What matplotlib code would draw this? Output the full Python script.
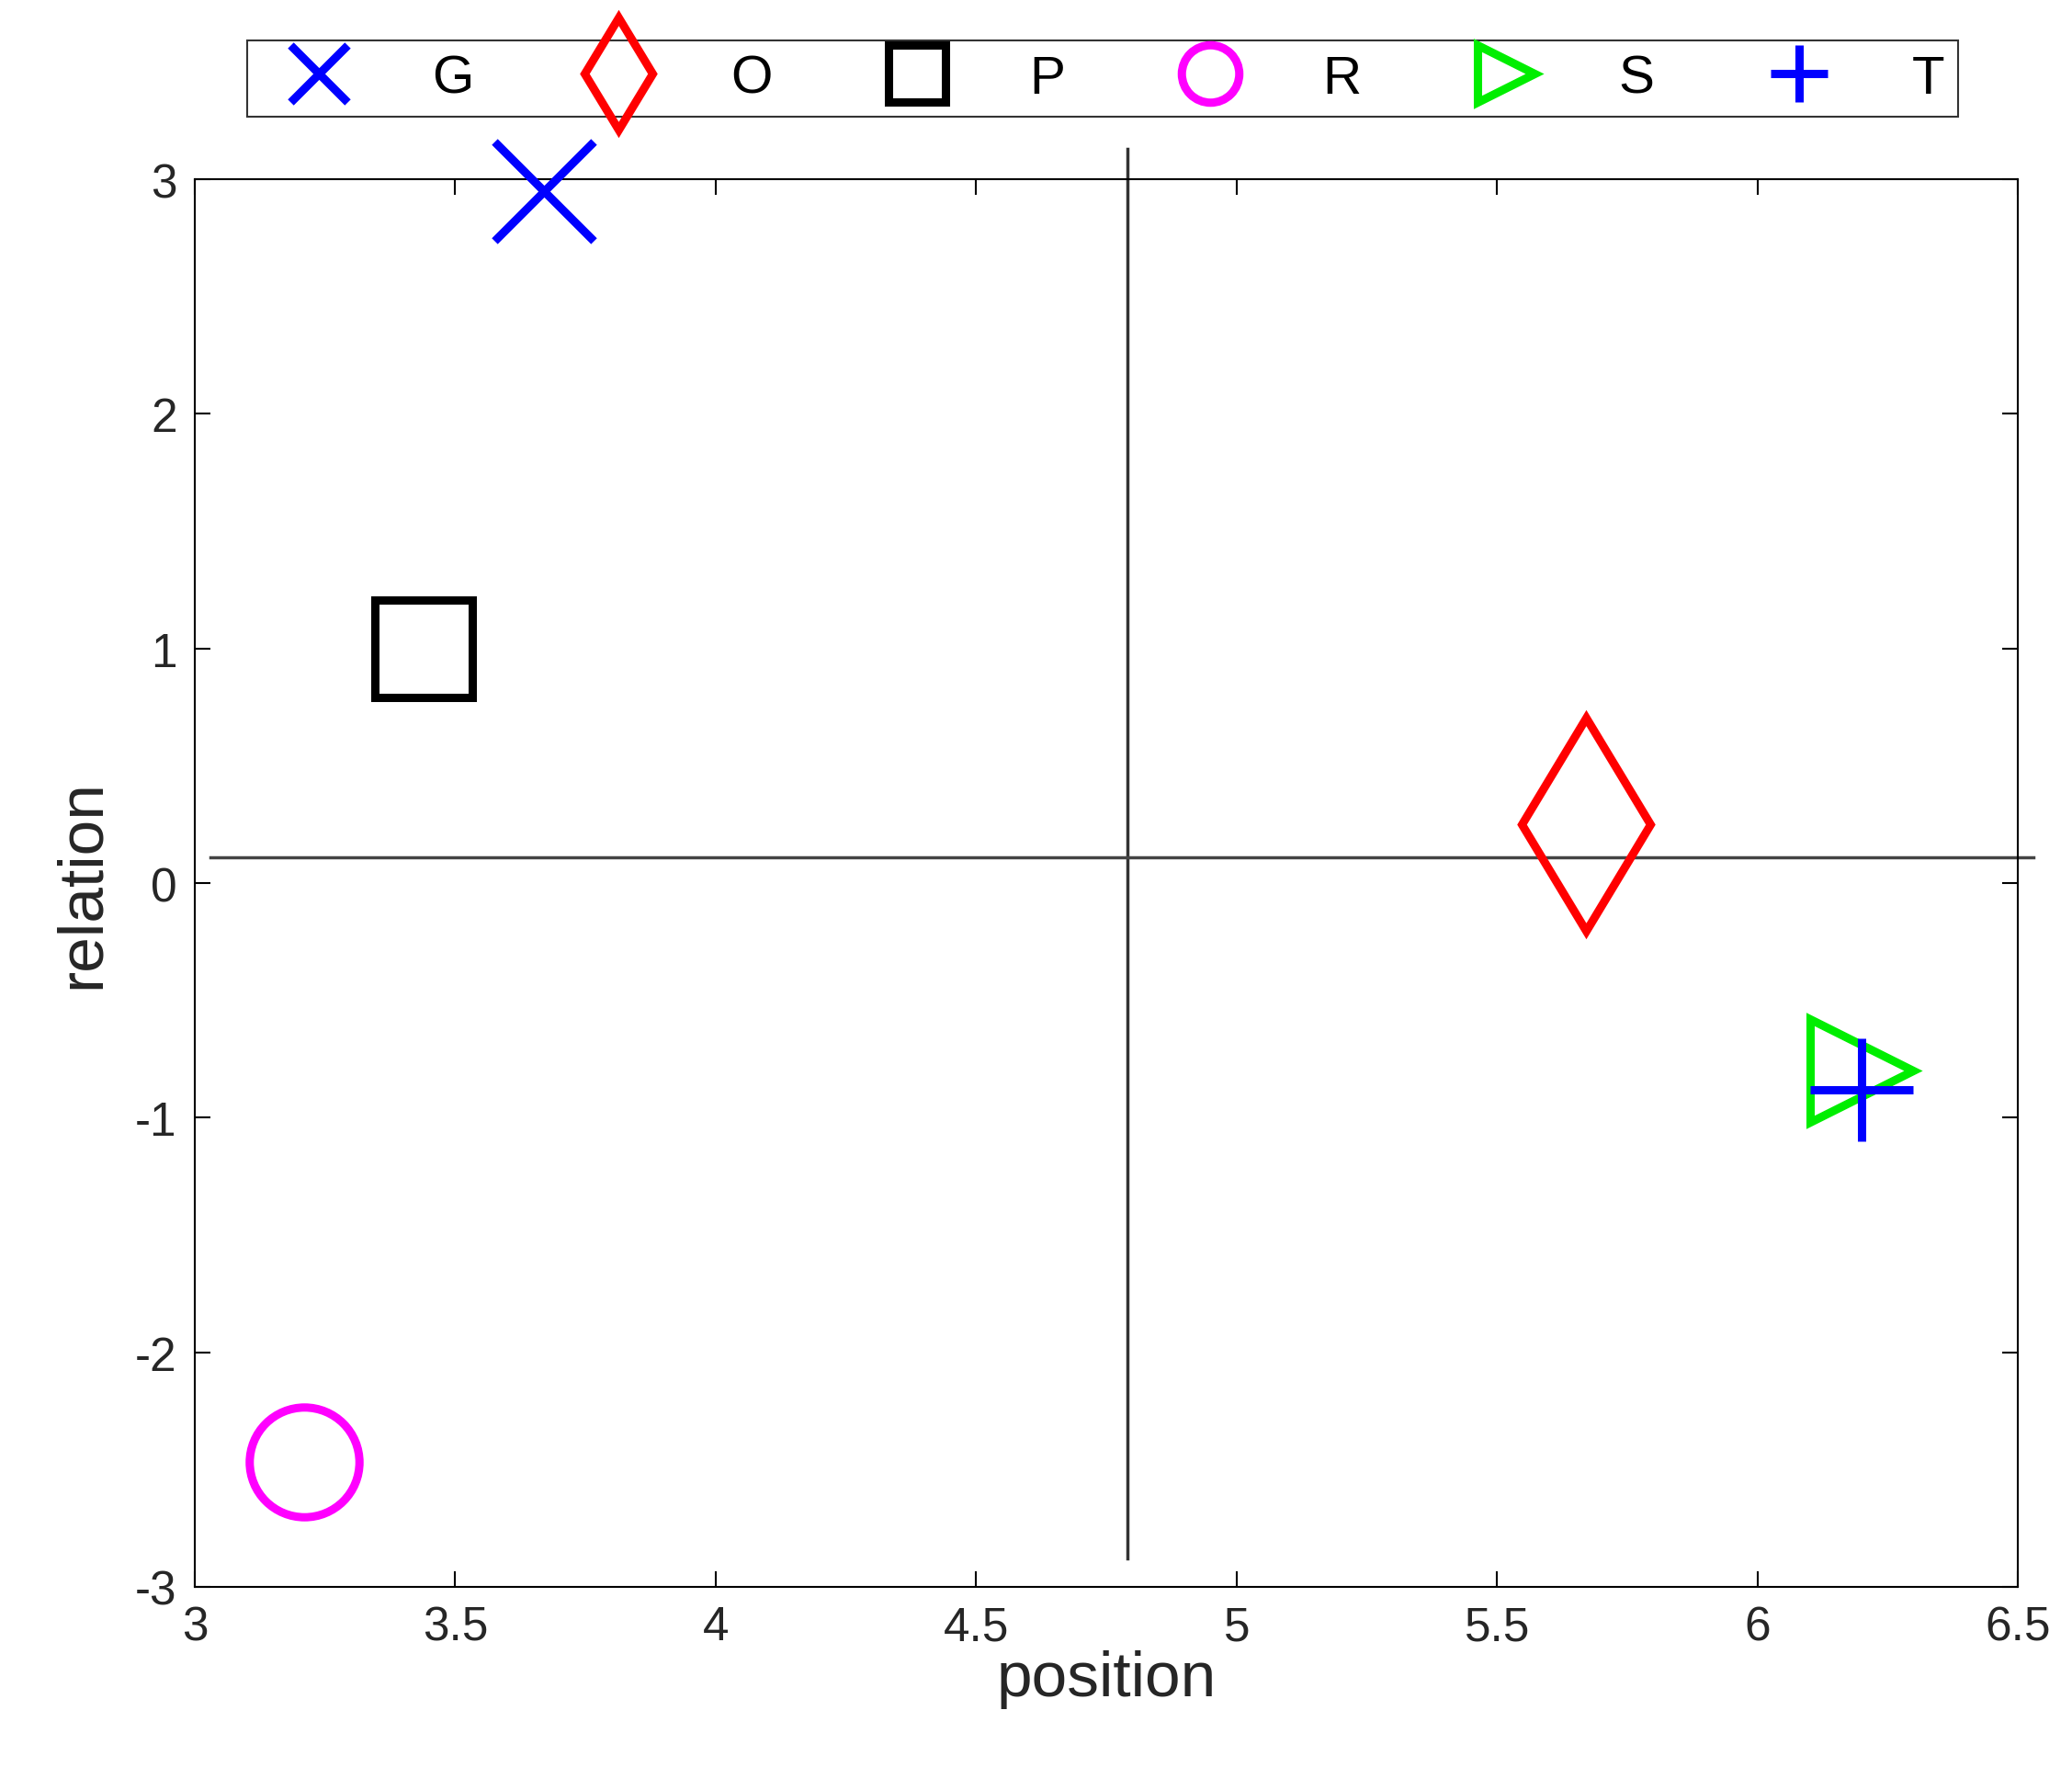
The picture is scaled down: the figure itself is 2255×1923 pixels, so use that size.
import matplotlib
matplotlib.use("Agg")
import matplotlib.pyplot as plt
from matplotlib.lines import Line2D

plt.rcParams["font.family"] = ["Liberation Sans", "DejaVu Sans"]
plt.rcParams["axes.unicode_minus"] = False

names = ["G", "O", "P", "R", "S", "T"]
pos = [3.67, 5.67, 3.44, 3.21, 6.2, 6.2]
rel = [2.95, 0.25, 1.0, -2.47, -0.8, -0.88]
markers = ["x", "d", "s", "o", ">", "+"]
colors = ["#0000ff", "#ff0000", "#000000", "#ff00ff", "#00ee00", "#0000ff"]
sizes = [78, 118, 76, 86, 80, 80]
vline_x = 4.79
hline_y = 0.11

fig = plt.figure(figsize=(22.55, 19.24), dpi=100)
ax = fig.add_axes([0.094, 0.102, 0.880, 0.796])

for n, x, y, m, c, s in zip(names, pos, rel, markers, colors, sizes):
    ax.plot([x], [y], linestyle="none", marker=m, markersize=s, color=c,
            markerfacecolor="none", markeredgewidth=6.5, clip_on=False, zorder=3)

ax.plot([vline_x, vline_x], [-2.88, 3.13], color="#333333", linewidth=2.5, clip_on=False)
ax.plot([3.03, 6.53], [hline_y, hline_y], color="#444444", linewidth=2.5, clip_on=False)

ax.set_xlim(3, 6.5)
ax.set_ylim(-3, 3)
ax.set_xticks([3, 3.5, 4, 4.5, 5, 5.5, 6, 6.5])
ax.set_xticklabels(["3", "3.5", "4", "4.5", "5", "5.5", "6", "6.5"])
ax.set_yticks([-3, -2, -1, 0, 1, 2, 3])
ax.tick_params(labelsize=37, labelcolor="#262626", direction="in", length=12, width=1.5,
               top=True, right=True, pad=14)
for sp in ax.spines.values():
    sp.set_linewidth(1.5)
ax.set_xlabel("position", fontsize=50, color="#262626", labelpad=0)
ax.set_ylabel("relation", fontsize=50, color="#262626", labelpad=18)

handles = [Line2D([], [], linestyle="none", marker=m, color=c, markerfacecolor="none",
                  markersize=45 if m != "d" else 62, markeredgewidth=6.5)
           for m, c in zip(markers, colors)]
leg = fig.legend(handles, names, loc="center", bbox_to_anchor=(0.532, 0.955), ncol=6,
                 fontsize=42, frameon=True, fancybox=False, edgecolor="black",
                 handletextpad=1.0, columnspacing=1.6, borderpad=0.25, handlelength=2.2)
leg.get_frame().set_linewidth(1.5)

fig.savefig("out.png", dpi=100, facecolor="white")
